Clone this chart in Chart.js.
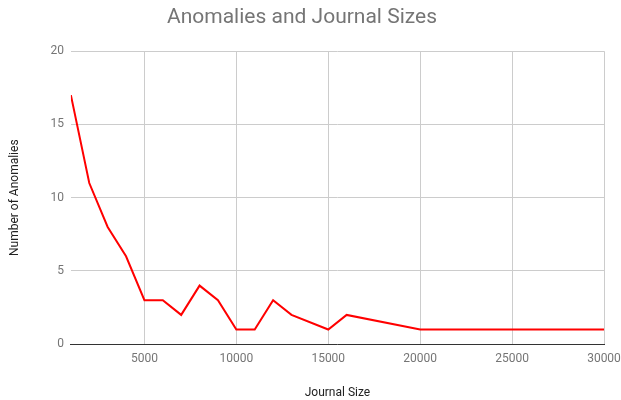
<!DOCTYPE html>
<html>
<head>
<meta charset="utf-8">
<script src="https://cdn.jsdelivr.net/npm/chart.js@4"></script>
<style>
  html, body { margin: 0; padding: 0; background: #fff; overflow: hidden; }
  canvas { display: block; }
</style>
</head>
<body>
<canvas id="anomalyChart" width="621" height="400"></canvas>
<script>
const journalSizes = [1000, 2000, 3000, 4000, 5000, 6000, 7000, 8000, 9000, 10000, 11000, 12000, 13000, 15000, 16000, 20000, 25000, 30000];
const anomalyCounts = [17, 11, 8, 6, 3, 3, 2, 4, 3, 1, 1, 3, 2, 1, 2, 1, 1, 1];
const xTicks = [5000, 10000, 15000, 20000, 25000, 30000];
const yTicks = [0, 5, 10, 15, 20];

const tickColor = "#757575";
const gridColor = "#cccccc";

function initAnomalyChart() {
  const ctx = document.getElementById("anomalyChart");
  const points = journalSizes.map((size, i) => ({ x: size, y: anomalyCounts[i] }));

  new Chart(ctx, {
    type: "line",
    data: {
      datasets: [{
        label: "Anomalies",
        data: points,
        borderColor: "#ff0000",
        borderWidth: 2,
        pointRadius: 0,
        tension: 0,
        fill: false
      }]
    },
    options: {
      responsive: false,
      animation: false,
      layout: { padding: { top: 0, right: 17, bottom: 0, left: 0 } },
      plugins: {
        legend: { display: false },
        tooltip: { enabled: false },
        title: {
          display: true,
          text: "Anomalies and Journal Sizes",
          color: tickColor,
          font: { family: "Roboto", size: 21, weight: "normal" },
          padding: { top: 5, bottom: 21 }
        }
      },
      scales: {
        x: {
          type: "linear",
          min: journalSizes[0],
          max: xTicks[xTicks.length - 1],
          afterBuildTicks: scale => {
            scale.ticks = xTicks.map(v => ({ value: v }));
          },
          afterFit: scale => {
            // let the last label run off the edge like the original
            scale.paddingRight = 0;
            scale.paddingLeft = 0;
          },
          grid: { color: gridColor, drawTicks: false },
          border: { display: true, color: "#333333", width: 1 },
          ticks: {
            color: tickColor,
            padding: 8,
            maxRotation: 0,
            autoSkip: false,
            font: { family: "Roboto", size: 12 },
            callback: v => String(v)
          },
          title: {
            display: true,
            text: "Journal Size",
            color: "#222222",
            font: { family: "Roboto", size: 12 },
            padding: { top: 11, bottom: 0 }
          }
        },
        y: {
          min: yTicks[0],
          max: yTicks[yTicks.length - 1],
          afterBuildTicks: scale => {
            scale.ticks = yTicks.map(v => ({ value: v }));
          },
          grid: { color: gridColor, drawTicks: false },
          border: { display: false },
          ticks: {
            color: tickColor,
            padding: 7,
            font: { family: "Roboto", size: 12 }
          },
          title: {
            display: true,
            text: "Number of Anomalies",
            color: "#222222",
            font: { family: "Roboto", size: 12 },
            padding: { top: 8, bottom: 21 }
          }
        }
      }
    }
  });
}

document.addEventListener("DOMContentLoaded", initAnomalyChart);
</script>
</body>
</html>
